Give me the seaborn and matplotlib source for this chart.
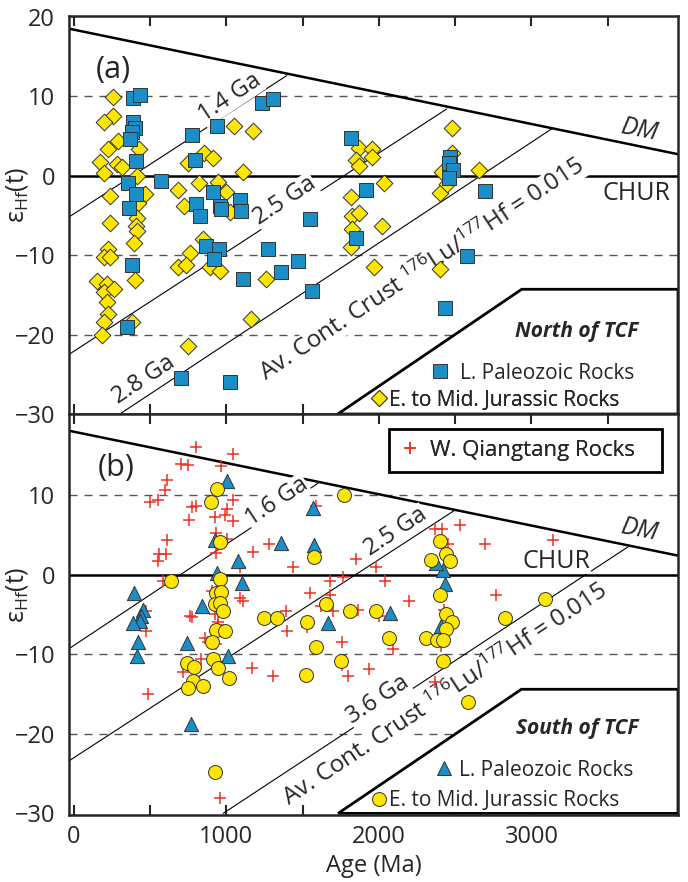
import matplotlib
matplotlib.use('Agg')
import matplotlib.pyplot as plt
import seaborn as sns
from matplotlib.lines import Line2D
from matplotlib.patches import Polygon, Rectangle

# ---------------- panel (a): North of TCF ----------------
paleozoic_a_age = [391, 435, 391, 402, 380, 370, 409, 359, 409, 365,
                   380, 348, 572, 778, 939, 793, 913, 804, 826, 957,
                   967, 1087, 1098, 1235, 1304, 870, 952, 917, 1272, 1467,
                   1359, 1109, 1565, 1548, 707, 1026, 1815, 1913, 1848, 2467,
                   2461, 2489, 2461, 2576, 2435, 2698]
paleozoic_a_eps = [9.8, 10.1, 6.8, 6.0, 5.5, 4.6, 1.8, -0.9, -2.25, -4.1,
                   -11.25, -19.0, -0.7, 5.1, 6.25, 2.0, -2.1, -3.6, -5.1, -3.8,
                   -4.25, -3.1, -4.5, 9.1, 9.7, -8.8, -9.25, -10.5, -9.25, -10.7,
                   -12.1, -13.0, -14.5, -5.5, -25.5, -26.0, 4.7, -1.8, -7.9, 2.4,
                   1.6, 0.75, -0.3, -10.1, -16.7, -1.9]

jurassic_a_age = [261, 261, 196, 293, 228, 170, 196, 283, 315, 239,
                  239, 228, 196, 239, 152, 217, 196, 265, 217, 228,
                  196, 185, 428, 413, 467, 424, 417, 409, 413, 396,
                  402, 380, 750, 852, 913, 822, 685, 722, 946, 1000,
                  1026, 1054, 1174, 1109, 848, 761, 685, 735, 891, 957,
                  1261, 1163, 750, 1870, 1957, 1848, 1957, 1870, 2033, 1815,
                  1826, 1870, 1826, 2022, 1815, 1967, 2478, 2478, 2413, 2402,
                  2446, 2402, 2654]
jurassic_a_eps = [9.9, 7.5, 6.7, 4.4, 3.3, 1.7, 0.3, 1.5, 1.1, -2.5,
                  -6.0, -9.25, -10.2, -10.3, -13.2, -13.6, -14.7, -14.25, -15.9, -17.4,
                  -18.4, -20.0, 3.3, -0.1, -2.3, -3.4, -5.3, -6.3, -7.0, -8.5,
                  -13.1, -18.4, 1.6, 2.8, 2.2, -0.9, -1.75, -3.8, -0.8, -2.0,
                  -4.6, 6.25, 5.6, 0.5, -8.0, -9.7, -11.5, -11.25, -11.5, -12.0,
                  -13.0, -18.1, -21.4, 3.5, 3.3, 2.0, 2.4, 1.2, -0.9, -2.7,
                  -5.1, -4.7, -6.75, -6.3, -9.0, -11.5, 6.0, 2.8, 0.5, -2.2,
                  -1.1, -11.75, 0.7]

# ---------------- panel (b): South of TCF ----------------
qiangtang_b_age = [805, 1046, 707, 747, 969, 609, 602, 500, 551, 778,
                   801, 1046, 1002, 925, 991, 1046, 757, 609, 560, 604,
                   554, 936, 1002, 934, 1176, 1278, 1439, 1089, 587, 904,
                   936, 980, 1089, 1107, 762, 773, 474, 474, 864, 880,
                   936, 945, 926, 947, 838, 718, 489, 958, 1548, 1170,
                   1307, 1400, 1530, 1393, 1590, 1849, 1984, 2039, 1766, 1681,
                   1679, 1624, 1701, 1864, 2002, 2199, 1758, 2094, 1760, 1800,
                   1935, 2370, 2415, 2530, 2454, 2465, 2694, 3142, 2765, 2425,
                   2443, 2421, 2410, 2370]
qiangtang_b_eps = [16.0, 15.2, 13.9, 13.8, 13.7, 11.9, 10.6, 9.2, 9.4, 8.5,
                   8.6, 9.4, 8.2, 7.3, 7.5, 6.8, 6.9, 4.4, 2.6, 2.65,
                   1.7, 5.2, 4.5, 2.7, 2.8, 3.9, 1.0, 1.0, -0.75, -2.0,
                   -2.3, -2.3, -2.9, -3.3, -5.2, -5.3, -4.6, -7.1, -7.9, -8.5,
                   -8.7, -6.3, -5.0, -6.0, -10.6, -12.2, -15.0, -28.1, -2.3, -11.7,
                   -12.7, -7.1, -6.6, -4.6, 8.6, 2.0, 1.0, -0.8, -0.3, -0.8,
                   -2.5, -3.9, -4.6, -4.4, -5.2, -3.3, -8.4, -9.3, -11.3, -12.7,
                   -11.9, 5.8, 5.8, 6.2, 3.9, 2.3, 3.9, 4.4, -2.6, -4.4,
                   -6.4, -7.8, -8.9, -13.5]

paleozoic_b_age = [1002, 1570, 925, 1076, 1362, 1575, 941, 1103, 399, 452,
                   440, 434, 386, 843, 423, 413, 745, 1013, 772, 1670,
                   2072, 2421, 2432, 2410, 2377]
paleozoic_b_eps = [11.8, 8.4, 4.4, 1.75, 4.0, 3.7, 0.2, -1.0, -2.25, -4.4,
                   -5.2, -5.8, -6.1, -3.95, -8.5, -10.25, -8.55, -10.25, -18.8, -6.05,
                   -4.8, 0.6, -1.2, -6.4, 1.5]

jurassic_b_age = [941, 898, 960, 636, 958, 936, 969, 925, 958, 980,
                  936, 989, 910, 914, 947, 1020, 740, 790, 784, 751,
                  851, 925, 1250, 1330, 1530, 1521, 1578, 1590, 1770, 2399,
                  2443, 2465, 2340, 2399, 2443, 2476, 2439, 2312, 2378, 2421,
                  2417, 1652, 1814, 1984, 2067, 1755, 2825, 3087, 2585]
jurassic_b_eps = [10.8, 9.2, 4.1, -0.8, -0.6, -2.3, -2.2, -3.7, -3.5, -4.5,
                  -6.9, -7.1, -8.4, -10.6, -11.7, -13.0, -11.1, -11.6, -13.4, -14.3,
                  -14.0, -24.8, -5.4, -5.4, -6.0, -12.6, 2.2, -9.1, 10.0, 4.2,
                  2.6, 1.7, 1.9, -2.5, -5.0, -6.0, -6.8, -7.9, -8.2, -8.2,
                  -10.9, -3.7, -4.5, -4.6, -8.0, -10.9, -5.5, -3.0, -16.0]

# reference lines (age in Ma, epsilon Hf), read at their end points
dm_a_age, dm_a_eps = [-30, 3960], [18.5, 2.7]
dm_b_age, dm_b_eps = [-30, 3960], [18.1, 2.4]
crust_a = [([-30, 1397], [-5.2, 12.6]), ([-30, 2445], [-22.5, 8.4]), ([303, 3133], [-30, 5.9])]
crust_b = [([-30, 1602], [-9.3, 11.5]), ([-30, 2497], [-23.4, 8.1]), ([980, 3632], [-30, 3.5])]
box_a_age, box_a_eps = [1731, 2936, 3960, 3960], [-30, -14.3, -14.3, -30]
box_b_age, box_b_eps = [1733, 2934, 3960, 3960], [-30, -14.4, -14.4, -30]
grid_eps = [10, -10, -20]

blue = '#1b8ec8'
yellow = '#ffe600'
red = '#ee3124'
edge = '#333333'

sns.set_style('ticks')
plt.rcParams['font.family'] = ['Open Sans', 'DejaVu Sans']
plt.rcParams['mathtext.fontset'] = 'custom'
plt.rcParams['mathtext.rm'] = 'Open Sans'
plt.rcParams['mathtext.it'] = 'Open Sans:italic'

fig = plt.figure(figsize=(6.88, 8.82), dpi=100)
ax_a = fig.add_axes([0.1003, 0.5306, 0.8852, 0.4513])
ax_b = fig.add_axes([0.1003, 0.0760, 0.8852, 0.4546])


def base_axes(ax, dm_age, dm_eps, crust, box_age, box_eps):
    for g in grid_eps:
        ax.axhline(g, color='#555555', lw=1.0, dashes=(5.8, 5), zorder=1)
    for xs, ys in crust:
        ax.plot(xs, ys, color='black', lw=0.8, zorder=2)
    ax.axhline(0, color='black', lw=1.8, zorder=2.5)
    ax.plot(dm_age, dm_eps, color='black', lw=1.8, zorder=3)
    ax.add_patch(Polygon(list(zip(box_age, box_eps)), closed=True, fc='white',
                         ec='black', lw=2.0, zorder=3))
    ax.set_xlim(-30, 3960)
    ax.set_ylim(-30, 20.1)
    ax.set_xticks(range(0, 4000, 500))
    ax.tick_params(axis='x', direction='in', length=7, width=1.5, top=True,
                   bottom=True, labelsize=17, pad=7)
    ax.tick_params(axis='y', direction='in', length=0, labelsize=17, pad=10)
    for sp in ax.spines.values():
        sp.set_linewidth(1.8)
        sp.set_zorder(6)
    ax.set_xlabel('')
    ax.set_ylabel('ε$_{\\mathregular{Hf}}$(t)', fontsize=18)
    ax.yaxis.set_label_coords(-0.064, 0.55)


def line_label(ax, x, y, s, size=17):
    ax.text(x, y, s, transform=ax.transAxes, rotation=33.5, rotation_mode='anchor',
            ha='center', va='center', fontsize=size, zorder=3.5,
            bbox=dict(fc='white', ec='none', pad=0.3))


def item(ax, handle, label, x, y, pad, size=15):
    leg = ax.legend(handles=[handle], labels=[label], loc='center left',
                    bbox_to_anchor=(x, y), frameon=False, fontsize=size,
                    handlelength=1.0, handletextpad=pad, borderpad=0,
                    borderaxespad=0)
    leg.set_zorder(7)
    ax.add_artist(leg)


# ---- panel (a)
base_axes(ax_a, dm_a_age, dm_a_eps, crust_a, box_a_age, box_a_eps)
sns.scatterplot(x=jurassic_a_age, y=jurassic_a_eps, ax=ax_a, marker='D', s=72,
                color=yellow, edgecolor=edge, linewidth=0.7, zorder=4, legend=False)
sns.scatterplot(x=paleozoic_a_age, y=paleozoic_a_eps, ax=ax_a, marker='s', s=90,
                color=blue, edgecolor=edge, linewidth=0.7, zorder=4.5, legend=False)
ax_a.set_yticks([-30, -20, -10, 0, 10, 20])
ax_a.set_xticklabels([])
ax_a.text(0.072, 0.864, '(a)', transform=ax_a.transAxes, fontsize=22,
          ha='center', va='center')
ax_a.text(0.9376, 0.714, 'DM', transform=ax_a.transAxes, fontsize=18,
          style='italic', rotation=-11, ha='center', va='center')
ax_a.text(0.931, 0.555, 'CHUR', transform=ax_a.transAxes, fontsize=18,
          ha='center', va='center')
line_label(ax_a, 0.2644, 0.794, '1.4 Ga')
line_label(ax_a, 0.3547, 0.535, '2.5 Ga')
line_label(ax_a, 0.1232, 0.085, '2.8 Ga')
line_label(ax_a, 0.5796, 0.362,
           'Av. Cont. Crust $\\mathregular{^{176}}$Lu/$\\mathregular{^{177}}$Hf = 0.015', size=17.5)
ax_a.text(0.834, 0.2085, 'North of TCF', transform=ax_a.transAxes, fontsize=15,
          weight='bold', style='italic', ha='center', va='center', zorder=7)
item(ax_a, Line2D([], [], ls='none', marker='s', ms=9.4, mfc=blue, mec=edge, mew=0.7),
     'L. Paleozoic Rocks', 0.592, 0.103, 0.45)
item(ax_a, Line2D([], [], ls='none', marker='D', ms=8.4, mfc=yellow, mec=edge, mew=0.7),
     'E. to Mid. Jurassic Rocks', 0.492, 0.035, 0.0)

# ---- panel (b)
base_axes(ax_b, dm_b_age, dm_b_eps, crust_b, box_b_age, box_b_eps)
sns.scatterplot(x=qiangtang_b_age, y=qiangtang_b_eps, ax=ax_b, marker='+', s=75,
                color=red, linewidth=1.1, zorder=4, legend=False)
sns.scatterplot(x=paleozoic_b_age, y=paleozoic_b_eps, ax=ax_b, marker='^', s=105,
                color=blue, edgecolor=edge, linewidth=0.7, zorder=4.5, legend=False)
sns.scatterplot(x=jurassic_b_age, y=jurassic_b_eps, ax=ax_b, marker='o', s=100,
                color=yellow, edgecolor=edge, linewidth=0.7, zorder=4.6, legend=False)
ax_b.set_ylim(-30.2, 20.2)
ax_b.set_yticks([-30, -20, -10, 0, 10])
ax_b.set_xticklabels(['0', '', '1000', '', '2000', '', '3000', ''])
ax_b.set_xlabel('Age (Ma)', fontsize=17, labelpad=4)
ax_b.text(0.077, 0.865, '(b)', transform=ax_b.transAxes, fontsize=22,
          ha='center', va='center')
ax_b.text(0.9376, 0.711, 'DM', transform=ax_b.transAxes, fontsize=18,
          style='italic', rotation=-11, ha='center', va='center')
ax_b.text(0.801, 0.633, 'CHUR', transform=ax_b.transAxes, fontsize=18,
          ha='center', va='center', zorder=3.5,
          bbox=dict(fc='white', ec='none', pad=0.3))
line_label(ax_b, 0.3415, 0.7805, '1.6 Ga')
line_label(ax_b, 0.537, 0.7057, '2.5 Ga')
line_label(ax_b, 0.5074, 0.2868, '3.6 Ga')
line_label(ax_b, 0.6174, 0.2993,
           'Av. Cont. Crust $\\mathregular{^{176}}$Lu/$\\mathregular{^{177}}$Hf = 0.015', size=17.5)
ax_b.text(0.834, 0.2145, 'South of TCF', transform=ax_b.transAxes, fontsize=15,
          weight='bold', style='italic', ha='center', va='center', zorder=7)
item(ax_b, Line2D([], [], ls='none', marker='^', ms=10.2, mfc=blue, mec=edge, mew=0.7),
     'L. Paleozoic Rocks', 0.5986, 0.112, 0.2)
item(ax_b, Line2D([], [], ls='none', marker='o', ms=10.0, mfc=yellow, mec=edge, mew=0.7),
     'E. to Mid. Jurassic Rocks', 0.492, 0.035, 0.0)
ax_b.add_patch(Rectangle((0.5255, 0.855), 0.448, 0.107, transform=ax_b.transAxes,
                         fc='white', ec='black', lw=2.0, zorder=6.5))
item(ax_b, Line2D([], [], ls='none', marker='+', ms=9, mec=red, mew=1.1),
     'W. Qiangtang Rocks', 0.541, 0.910, 0.4, size=16)

fig.savefig('out.png', dpi=100)
